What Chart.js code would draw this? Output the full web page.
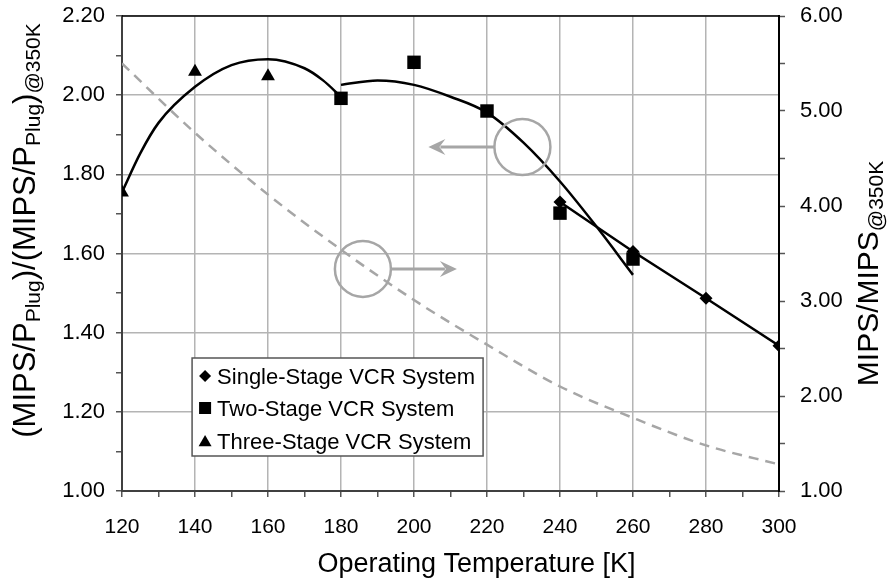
<!DOCTYPE html>
<html>
<head>
<meta charset="utf-8">
<style>
html,body{margin:0;padding:0;background:#fff;}
#wrap{width:890px;height:579px;position:relative;}
canvas{display:block;}
</style>
</head>
<body>
<div id="wrap"><canvas id="c" width="890" height="579"></canvas></div>
<script src="https://cdn.jsdelivr.net/npm/chart.js@4.4.1/dist/chart.umd.min.js"></script>
<script>
// ---------- data ----------
const seriesLabels = ['Single-Stage VCR System', 'Two-Stage VCR System', 'Three-Stage VCR System'];

const singleTemps = [240, 260, 280, 300];
const singleVals  = [1.730, 1.605, 1.487, 1.367];

const twoTemps = [180, 200, 220, 240, 260];
const twoVals  = [1.992, 2.083, 1.960, 1.702, 1.586];

const threeTemps = [120, 140, 160];
const threeVals  = [1.754, 2.059, 2.048];

// trend curves
const twoTrendTemps = [180, 190, 200, 210, 220, 230, 240, 250, 260];
const twoTrendVals  = [2.026, 2.037, 2.026, 1.996, 1.956, 1.880, 1.782, 1.668, 1.546];

const threeTrendTemps = [120, 125, 130, 140, 150, 160, 170, 175, 180];
const threeTrendVals  = [1.755, 1.853, 1.930, 2.021, 2.076, 2.091, 2.068, 2.038, 1.996];

// MIPS / MIPS@350K (right axis, dashed grey)
const mipsTemps = [120, 140, 160, 180, 200, 220, 240, 260, 280, 300];
const mipsVals  = [5.50, 4.77, 4.12, 3.54, 3.01, 2.54, 2.10, 1.77, 1.48, 1.28];

// axis ranges / ticks
const xMin = 120, xMax = 300, xStep = 10, xLabelStep = 20;
const yMin = 1.0, yMax = 2.2, yStep = 0.1;
const y2Min = 1.0, y2Max = 6.0, y2Step = 0.5;

// ---------- helpers ----------
const FONT = '"Liberation Sans", Arial, Helvetica, sans-serif';
const pts = (xs, ys) => xs.map((x, i) => ({x: x, y: ys[i]}));
const GRID = '#b4b4b4';
const ANNO = '#a6a6a6';

Chart.defaults.font.family = FONT;
Chart.defaults.color = '#000';

function drawMarker(ctx, style, x, y, r) {
  ctx.beginPath();
  if (style === 'rectRot') {
    ctx.moveTo(x - r, y); ctx.lineTo(x, y - r); ctx.lineTo(x + r, y); ctx.lineTo(x, y + r);
  } else if (style === 'rect') {
    const s = r * Math.SQRT1_2;
    ctx.rect(x - s, y - s, 2 * s, 2 * s);
  } else {
    let a = 0;
    ctx.moveTo(x + Math.sin(a) * r, y - Math.cos(a) * r);
    a += 2 * Math.PI / 3;
    ctx.lineTo(x + Math.sin(a) * r, y - Math.cos(a) * r);
    a += 2 * Math.PI / 3;
    ctx.lineTo(x + Math.sin(a) * r, y - Math.cos(a) * r);
  }
  ctx.closePath();
  ctx.fill();
}

function richWidth(ctx, parts) {
  let w = 0;
  parts.forEach(p => { ctx.font = p.size + 'px ' + FONT; w += ctx.measureText(p.t).width; });
  return w;
}
function drawRich(ctx, parts, x, y) {
  let cx = x;
  parts.forEach(p => {
    ctx.font = p.size + 'px ' + FONT;
    ctx.fillText(p.t, cx, y + (p.dy || 0));
    cx += ctx.measureText(p.t).width;
  });
}
function drawRotatedTitle(ctx, parts, baseX, centerY) {
  const w = richWidth(ctx, parts);
  ctx.save();
  ctx.translate(baseX, centerY + w / 2);
  ctx.rotate(-Math.PI / 2);
  ctx.textAlign = 'left';
  ctx.textBaseline = 'alphabetic';
  ctx.fillStyle = '#000';
  drawRich(ctx, parts, 0, 0);
  ctx.restore();
}

function arrowHead(ctx, tipX, tipY, dir) {
  ctx.beginPath();
  ctx.moveTo(tipX, tipY);
  ctx.lineTo(tipX - dir * 17, tipY - 8);
  ctx.lineTo(tipX - dir * 11, tipY);
  ctx.lineTo(tipX - dir * 17, tipY + 8);
  ctx.closePath();
  ctx.fill();
}

const decorPlugin = {
  id: 'decor',
  afterDraw(chart) {
    const ctx = chart.ctx;
    const a = chart.chartArea;
    const xs = chart.scales.x, ys = chart.scales.y;

    // top border of the plot area
    ctx.save();
    ctx.strokeStyle = '#000';
    ctx.lineWidth = 1.5;
    ctx.beginPath();
    ctx.moveTo(a.left, a.top); ctx.lineTo(a.right, a.top);
    ctx.stroke();
    ctx.restore();

    // circle + arrow annotations
    const R = 28;
    const annos = [
      {x: 186, y: 1.561, dir: 1},
      {x: 229.7, y: 1.869, dir: -1}
    ];
    ctx.save();
    ctx.strokeStyle = ANNO; ctx.fillStyle = ANNO;
    annos.forEach(an => {
      const cx = xs.getPixelForValue(an.x), cy = ys.getPixelForValue(an.y);
      ctx.lineWidth = 2.5;
      ctx.beginPath(); ctx.arc(cx, cy, R, 0, Math.PI * 2); ctx.stroke();
      const x1 = cx + an.dir * R, x2 = cx + an.dir * 94;
      ctx.lineWidth = 3;
      ctx.beginPath(); ctx.moveTo(x1, cy); ctx.lineTo(x2 - an.dir * 12, cy); ctx.stroke();
      arrowHead(ctx, x2, cy, an.dir);
    });
    ctx.restore();

    // legend box
    const lx = xs.getPixelForValue(139.2), ly = ys.getPixelForValue(1.336);
    const lw = 291, lh = 98;
    ctx.save();
    ctx.fillStyle = '#fff';
    ctx.fillRect(lx, ly, lw, lh);
    ctx.strokeStyle = '#555';
    ctx.lineWidth = 1.5;
    ctx.strokeRect(lx, ly, lw, lh);
    const styles = ['rectRot', 'rect', 'triangle'];
    const sizes = [6, 8.5, 7.5];
    const rowY = [18, 50, 83];
    ctx.fillStyle = '#000';
    ctx.font = '22px ' + FONT;
    ctx.textAlign = 'left';
    ctx.textBaseline = 'alphabetic';
    seriesLabels.forEach((lab, i) => {
      const my = ly + rowY[i];
      drawMarker(ctx, styles[i], lx + 13, my + (styles[i] === 'triangle' ? 1.5 : 0), sizes[i]);
      ctx.fillText(lab, lx + 25, my + 8);
    });
    ctx.restore();

    // axis titles
    ctx.save();
    ctx.fillStyle = '#000';
    ctx.font = '27px ' + FONT;
    ctx.textAlign = 'center';
    ctx.textBaseline = 'alphabetic';
    ctx.fillText('Operating Temperature [K]', 476.5, 572);
    ctx.restore();

    drawRotatedTitle(ctx, [
      {t: '(MIPS/P', size: 31}, {t: 'Plug', size: 21, dy: 5},
      {t: ')/(MIPS/P', size: 31}, {t: 'Plug', size: 21, dy: 5},
      {t: ')', size: 31}, {t: '@350K', size: 21, dy: 5}
    ], 35, 230.5);

    drawRotatedTitle(ctx, [
      {t: 'MIPS/MIPS', size: 30}, {t: '@350K', size: 21, dy: 5}
    ], 878, 273.5);
  }
};

const isMultiple = (v, step) => Math.abs(v / step - Math.round(v / step)) < 1e-6;
const noPad = s => { s.paddingTop = 0; s.paddingBottom = 0; s.paddingLeft = 0; s.paddingRight = 0; };

new Chart(document.getElementById('c'), {
  type: 'line',
  data: {
    datasets: [
      {
        label: seriesLabels[0], data: pts(singleTemps, singleVals),
        pointStyle: 'rectRot', pointRadius: 6.5, pointBackgroundColor: '#000', pointBorderWidth: 0,
        borderColor: '#000', borderWidth: 2.5, tension: 0, showLine: true
      },
      {
        label: seriesLabels[1], data: pts(twoTemps, twoVals),
        pointStyle: 'rect', pointRadius: 9.5, pointBackgroundColor: '#000', pointBorderWidth: 0,
        borderColor: '#000', showLine: false
      },
      {
        label: seriesLabels[2], data: pts(threeTemps, threeVals),
        pointStyle: 'triangle', pointRadius: 8, pointBackgroundColor: '#000', pointBorderWidth: 0,
        borderColor: '#000', showLine: false
      },
      {
        label: 'Two-Stage trend', data: pts(twoTrendTemps, twoTrendVals),
        pointRadius: 0, borderColor: '#000', borderWidth: 2.5, cubicInterpolationMode: 'monotone'
      },
      {
        label: 'Three-Stage trend', data: pts(threeTrendTemps, threeTrendVals),
        pointRadius: 0, borderColor: '#000', borderWidth: 2.5, cubicInterpolationMode: 'monotone'
      },
      {
        label: 'MIPS/MIPS@350K', data: pts(mipsTemps, mipsVals), yAxisID: 'y2',
        pointRadius: 0, borderColor: ANNO, borderWidth: 2.5, borderDash: [10, 7],
        cubicInterpolationMode: 'monotone'
      }
    ]
  },
  options: {
    responsive: false,
    animation: false,
    devicePixelRatio: 1,
    events: [],
    layout: {padding: {top: 16, left: 0, right: 0, bottom: 0}},
    plugins: {legend: {display: false}, tooltip: {enabled: false}, title: {display: false}},
    scales: {
      x: {
        type: 'linear', position: 'bottom', min: xMin, max: xMax,
        afterFit: s => { s.height = 88; noPad(s); },
        ticks: {
          stepSize: xStep, autoSkip: false, maxRotation: 0, padding: 18,
          font: {size: 21}, color: '#000',
          callback: v => isMultiple(v, xLabelStep) ? String(Math.round(v)) : ''
        },
        grid: {
          color: c => (c.tick && isMultiple(c.tick.value, xLabelStep)) ? GRID : 'rgba(0,0,0,0)',
          lineWidth: 1.5, tickColor: '#555', tickLength: 6, tickWidth: 1.5
        },
        border: {display: true, color: '#404040', width: 2}
      },
      y: {
        type: 'linear', position: 'left', min: yMin, max: yMax,
        afterFit: s => { s.width = 122; noPad(s); },
        ticks: {
          stepSize: yStep, autoSkip: false, padding: 11,
          font: {size: 22}, color: '#000',
          callback: v => isMultiple(v, 0.2) ? v.toFixed(2) : ''
        },
        grid: {
          color: c => (c.tick && isMultiple(c.tick.value, 0.2)) ? GRID : 'rgba(0,0,0,0)',
          lineWidth: 1.5, tickColor: '#555', tickLength: 6, tickWidth: 1.5
        },
        border: {display: true, color: '#404040', width: 2}
      },
      y2: {
        type: 'linear', position: 'right', min: y2Min, max: y2Max,
        afterFit: s => { s.width = 111; noPad(s); },
        ticks: {
          stepSize: y2Step, autoSkip: false, padding: 15,
          font: {size: 22}, color: '#000',
          callback: v => isMultiple(v, 1) ? v.toFixed(2) : ''
        },
        grid: {drawOnChartArea: false, tickColor: '#555', tickLength: 6, tickWidth: 1.5},
        border: {display: true, color: '#000', width: 2}
      }
    }
  },
  plugins: [decorPlugin]
});
</script>
</body>
</html>
